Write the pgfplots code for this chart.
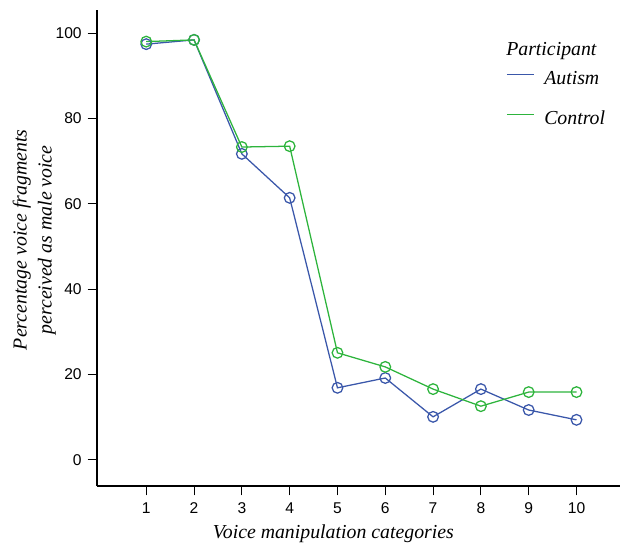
\documentclass[border=0pt]{standalone}
\usepackage{fontspec}
\setmainfont{Liberation Serif}
\newfontfamily\sansf{Liberation Sans}
\usepackage{pgfplots}
\pgfplotsset{compat=1.18}
\definecolor{aut}{RGB}{58,87,170}
\definecolor{con}{RGB}{45,180,60}
\begin{document}
\begin{tikzpicture}
\path[use as bounding box] (0,0) rectangle (468pt,408pt);
\begin{axis}[
 at={(72.75pt,43.5pt)}, anchor=south west,
 scale only axis, width=392.25pt, height=357pt,
 xmin=-0.03, xmax=10.91, ymin=-6.1, ymax=105.4,
 axis x line*=bottom, axis y line*=left,
 axis line style={-, line width=0.8pt},
 xtick={1,...,10}, ytick={0,20,...,100},
 tick align=outside, major tick length=7pt,
 tick style={line width=0.8pt, black},
 /pgf/number format/assume math mode=true,
 tick label style={font=\sansf\fontsize{11.7}{14}\selectfont},
 xticklabel style={yshift=-2pt},
 yticklabel style={xshift=-1pt},
 xlabel={\itshape Voice manipulation categories},
 xlabel style={at={(axis description cs:0.452,-0.1)}, anchor=center, font=\fontsize{14.85}{18}\selectfont},
 ylabel={\itshape Percentage voice fragments\\\itshape perceived as male voice},
 ylabel style={at={(axis description cs:-0.12,0.517)}, anchor=center, align=center, font=\fontsize{14.85}{18.75}\selectfont},
 legend style={at={(axis description cs:0.782,0.872)}, anchor=north west, draw=none, fill=none,
   font=\itshape\fontsize{14.85}{18}\selectfont, inner sep=0pt,
   nodes={inner sep=0pt, text height=10pt, text depth=3pt},
   row sep=17pt},
 legend cell align=left,
 legend image code/.code={\draw[#1, line width=1pt] (0pt,4pt) -- (20pt,4pt);},
 every axis plot/.append style={line width=0.95pt, mark=o, mark size=4pt, mark options={line width=0.95pt}},
]
\addplot[color=aut] coordinates {(1,97.4) (2,98.4) (3,71.7) (4,61.4) (5,16.9) (6,19.2) (7,10.1) (8,16.6) (9,11.7) (10,9.4)};
\addlegendentry{\hspace*{7.5pt}Autism}
\addplot[color=con] coordinates {(1,98.0) (2,98.4) (3,73.3) (4,73.5) (5,25.1) (6,21.8) (7,16.6) (8,12.6) (9,15.9) (10,15.9)};
\addlegendentry{\hspace*{7.5pt}Control}
\node[anchor=west, inner sep=0pt, font=\itshape\fontsize{14.85}{18}\selectfont] at (axis description cs:0.782,0.914) {Participant};
\end{axis}
\end{tikzpicture}
\end{document}
